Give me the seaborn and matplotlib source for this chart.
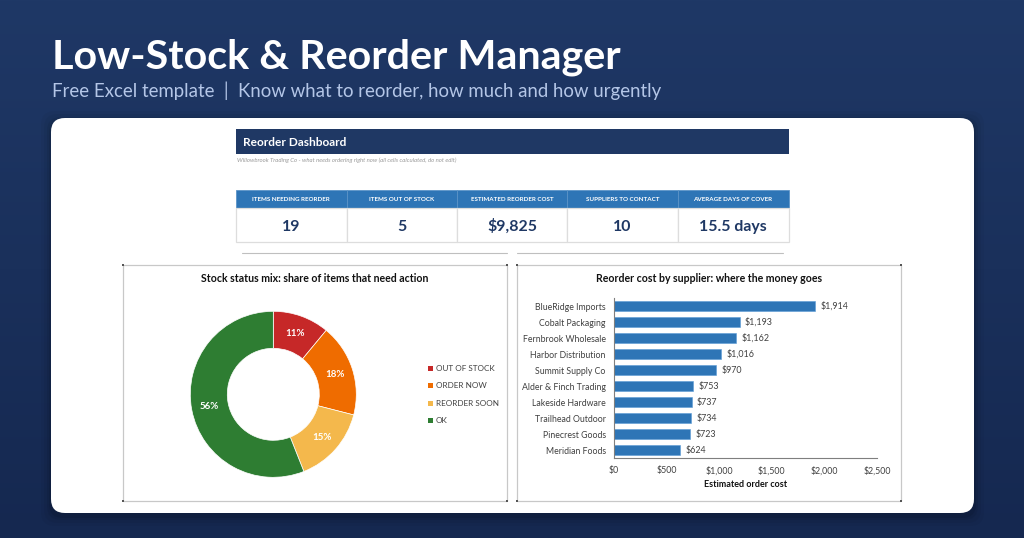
import numpy as np
import matplotlib
matplotlib.use("Agg")
import matplotlib.pyplot as plt
from matplotlib.patches import FancyBboxPatch, Rectangle
import pandas as pd
import seaborn as sns

TITLE = "Low-Stock & Reorder Manager"
SUBTITLE = "Free Excel template  |  Know what to reorder, how much and how urgently"
DASH_TITLE = "Reorder Dashboard"
DASH_NOTE = "Willowbrook Trading Co - what needs ordering right now (all cells calculated, do not edit)"
kpi_labels = ["ITEMS NEEDING REORDER", "ITEMS OUT OF STOCK", "ESTIMATED REORDER COST",
              "SUPPLIERS TO CONTACT", "AVERAGE DAYS OF COVER"]
kpi_values = ["19", "5", "$9,825", "10", "15.5 days"]
status_labels = ["OUT OF STOCK", "ORDER NOW", "REORDER SOON", "OK"]
status_share = [11, 18, 15, 56]
status_colors = ["#C62828", "#EF6C00", "#F4B84C", "#2E7D32"]
suppliers = ["BlueRidge Imports", "Cobalt Packaging", "Fernbrook Wholesale", "Harbor Distribution",
             "Summit Supply Co", "Alder & Finch Trading", "Lakeside Hardware", "Trailhead Outdoor",
             "Pinecrest Goods", "Meridian Foods"]
supplier_cost = [1914, 1193, 1162, 1016, 970, 753, 737, 734, 723, 624]
cost_ticks = [0, 500, 1000, 1500, 2000, 2500]

sns.set_theme(style="white")
plt.rcParams["font.family"] = ["Lato", "DejaVu Sans"]
W, H = 1024, 538
fig = plt.figure(figsize=(W / 100, H / 100), dpi=100)

# canvas in pixel coordinates (y down)
bg = fig.add_axes([0, 0, 1, 1])
top, bot = np.array([0x1f, 0x38, 0x66]), np.array([0x15, 0x28, 0x50])
grad = top + np.linspace(0, 1, 256)[:, None, None] * (bot - top)
bg.imshow(grad / 255, extent=[0, W, H, 0], aspect="auto", zorder=0)
bg.set_xlim(0, W); bg.set_ylim(H, 0); bg.axis("off")
for grow, alpha in [(10, 0.03), (7, 0.04), (4, 0.06), (2, 0.08)]:
    bg.add_patch(FancyBboxPatch((65 - grow, 132 - grow + 3), 895 + 2 * grow, 367 + 2 * grow,
                                boxstyle="round,pad=14,rounding_size=14", fc="black", ec="none",
                                alpha=alpha, zorder=0.5))
bg.add_patch(FancyBboxPatch((65, 132), 895, 367,
                            boxstyle="round,pad=14,rounding_size=14", fc="white", ec="none", zorder=1))
bg.text(52, 68.5, TITLE, color="white", fontsize=29.7, fontweight="bold", family="Lato", va="baseline", zorder=3)
bg.text(52, 97, SUBTITLE, color="#B4C6E7", fontsize=13.4, family="Lato", va="baseline", zorder=3)

# dashboard header
bg.add_patch(Rectangle((236, 129), 553, 25, fc="#1F3864", ec="none", zorder=2))
bg.text(243, 146, DASH_TITLE, color="white", fontsize=8.6, fontweight="bold", va="baseline", zorder=3)
bg.text(237, 160, DASH_NOTE, color="#9A9A9A", fontsize=4.35, style="italic", va="center", zorder=3)

# KPI cards
xs = [236, 346.5, 457, 567, 677.5, 788.5]
for i in range(5):
    x0, x1 = xs[i], xs[i + 1]
    bg.add_patch(Rectangle((x0, 190), x1 - x0, 18, fc="#2E75B6", ec="#5B93C7", lw=0.6, zorder=2))
    bg.add_patch(Rectangle((x0, 208), x1 - x0, 33.5, fc="white", ec="#DDDDDD", lw=0.9, zorder=2))
    bg.text((x0 + x1) / 2, 200.8, kpi_labels[i], color="white", fontsize=4.5, fontweight="bold",
            ha="center", va="baseline", zorder=3)
    bg.text((x0 + x1) / 2, 231, kpi_values[i], color="#1F3864", fontsize=11.4, fontweight="bold",
            ha="center", va="baseline", zorder=3)

# separators under KPI cards
bg.plot([241.5, 507], [253.3, 253.3], color="#BFBFBF", lw=0.8, zorder=2)
bg.plot([517, 783], [253.3, 253.3], color="#BFBFBF", lw=0.8, zorder=2)

# chart frames with corner handles
for (x0, y0, x1, y1) in [(123.3, 265, 507, 501), (517, 265, 900.7, 501)]:
    bg.add_patch(Rectangle((x0, y0), x1 - x0, y1 - y0, fc="white", ec="#C8C8C8", lw=0.9, zorder=2))
    for hx, hy in [(x0, y0), (x1, y0), (x0, y1), (x1, y1)]:
        bg.plot([hx], [hy], marker="s", ms=2, color="#555555", mew=0, zorder=3)
bg.text(315, 279, "Stock status mix: share of items that need action", color="#111111", fontsize=7.6,
        fontweight="bold", ha="center", va="center", zorder=3)
bg.text(709, 279, "Reorder cost by supplier: where the money goes", color="#111111", fontsize=7.6,
        fontweight="bold", ha="center", va="center", zorder=3)


def px_axes(x0, y0, x1, y1):
    return fig.add_axes([x0 / W, 1 - y1 / H, (x1 - x0) / W, (y1 - y0) / H])


# donut
cx, cy, R = 273.3, 394.3, 83
ax1 = px_axes(cx - R, cy - R, cx + R, cy + R)
ax1.pie(status_share, colors=status_colors, startangle=90, counterclock=False, radius=1,
        wedgeprops=dict(width=1 - 46 / 83, edgecolor="white", linewidth=0.5), normalize=True)
ax1.set_xlim(-1, 1); ax1.set_ylim(-1, 1)
angle = 90.0
total = sum(status_share)
for v in status_share:
    mid = np.deg2rad(angle - v / total * 180)
    ax1.text(0.78 * np.cos(mid), 0.78 * np.sin(mid), f"{v}%", color="white", fontsize=7,
             fontweight="bold", ha="center", va="center")
    angle -= v / total * 360

# legend
for i, (lab, col) in enumerate(zip(status_labels, status_colors)):
    y = 368.5 + i * 17.3
    bg.add_patch(Rectangle((428, y - 2.5), 5, 5, fc=col, ec="none", zorder=3))
    bg.text(436, y, lab, color="#404040", fontsize=5.9, va="center", zorder=3)

# bars
ax2 = px_axes(614, 298, 877, 458)
df = pd.DataFrame({"supplier": suppliers, "cost": supplier_cost})
sns.barplot(data=df, y="supplier", x="cost", orient="h", ax=ax2, color="#2E75B6", saturation=1,
            width=0.66, edgecolor="#5B9BD5", linewidth=0.4)
ax2.set_xlim(cost_ticks[0], cost_ticks[-1])
ax2.set_ylim(9.5, -0.5)
ax2.set_xticks(cost_ticks, [f"${t:,}" for t in cost_ticks])
ax2.set_xlabel("Estimated order cost", fontsize=6.5, fontweight="bold", color="#111111", labelpad=3)
ax2.set_ylabel("")
ax2.tick_params(axis="both", length=0, labelsize=6.3, labelcolor="#404040")
ax2.tick_params(axis="x", pad=6)
ax2.tick_params(axis="y", pad=6)
for lab in ax2.get_yticklabels():
    lab.set_va("center_baseline")
for s in ["top", "right"]:
    ax2.spines[s].set_visible(False)
for s in ["left", "bottom"]:
    ax2.spines[s].set_color("#7F7F7F")
    ax2.spines[s].set_linewidth(0.8)
for i, v in enumerate(supplier_cost):
    ax2.annotate(f"${v:,}", (v, i), xytext=(4, 0), textcoords="offset points", fontsize=6.4,
                 color="#404040", va="center")

fig.savefig("out.png", dpi=100)
